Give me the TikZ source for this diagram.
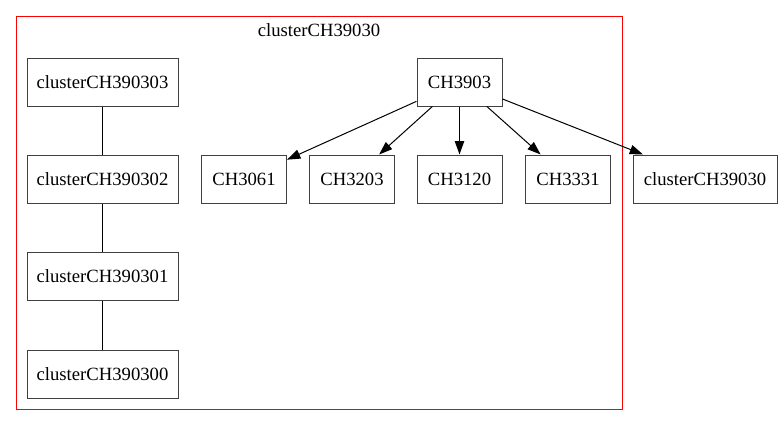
\documentclass[tikz,border=0pt]{standalone}
\usepackage{fontspec}
\setmainfont{Liberation Serif}
\usetikzlibrary{arrows.meta}
\begin{document}
\begin{tikzpicture}[x=0.75pt,y=-0.75pt,
  box/.style={draw=black!75,line width=0.75pt,minimum width=0pt,inner sep=0pt,font=\fontsize{14pt}{16pt}\selectfont},
  edge/.style={line width=0.75pt,black},
  arr/.style={edge,-{Triangle[length=10pt,width=7pt]}}]
\useasboundingbox (0,0) rectangle (782,425);
\draw[red,line width=0.75pt] (16,16) rectangle (622,409);
\node[font=\fontsize{14pt}{16pt}\selectfont] (clab) at (319,30) {clusterCH39030};
% left column
\node[box,minimum width=113.25pt,minimum height=36pt] (n3) at (102.5,82) {clusterCH390303};
\node[box,minimum width=113.25pt,minimum height=36pt] (n2) at (102.5,179) {clusterCH390302};
\node[box,minimum width=113.25pt,minimum height=36pt] (n1) at (102.5,276) {clusterCH390301};
\node[box,minimum width=113.25pt,minimum height=36pt] (n0) at (102.5,374) {clusterCH390300};
% right part
\node[box,minimum width=63.75pt,minimum height=36pt] (h) at (459.5,82) {CH3903};
\node[box,minimum width=63.75pt,minimum height=36pt] (a) at (244,179) {CH3061};
\node[box,minimum width=63.75pt,minimum height=36pt] (b) at (352,179) {CH3203};
\node[box,minimum width=63.75pt,minimum height=36pt] (c) at (459.5,179) {CH3120};
\node[box,minimum width=63.75pt,minimum height=36pt] (d) at (568,179) {CH3331};
\node[box,minimum width=108pt,minimum height=36pt] (e) at (705,179) {clusterCH39030};
\draw[edge] (n3) -- (n2);
\draw[edge] (n2) -- (n1);
\draw[edge] (n1) -- (n0);
\draw[arr] (h) -- (a);
\draw[arr] (h) -- (b);
\draw[arr] (h) -- (c);
\draw[arr] (h) -- (d);
\draw[arr] (h) -- (e);
\end{tikzpicture}
\end{document}
